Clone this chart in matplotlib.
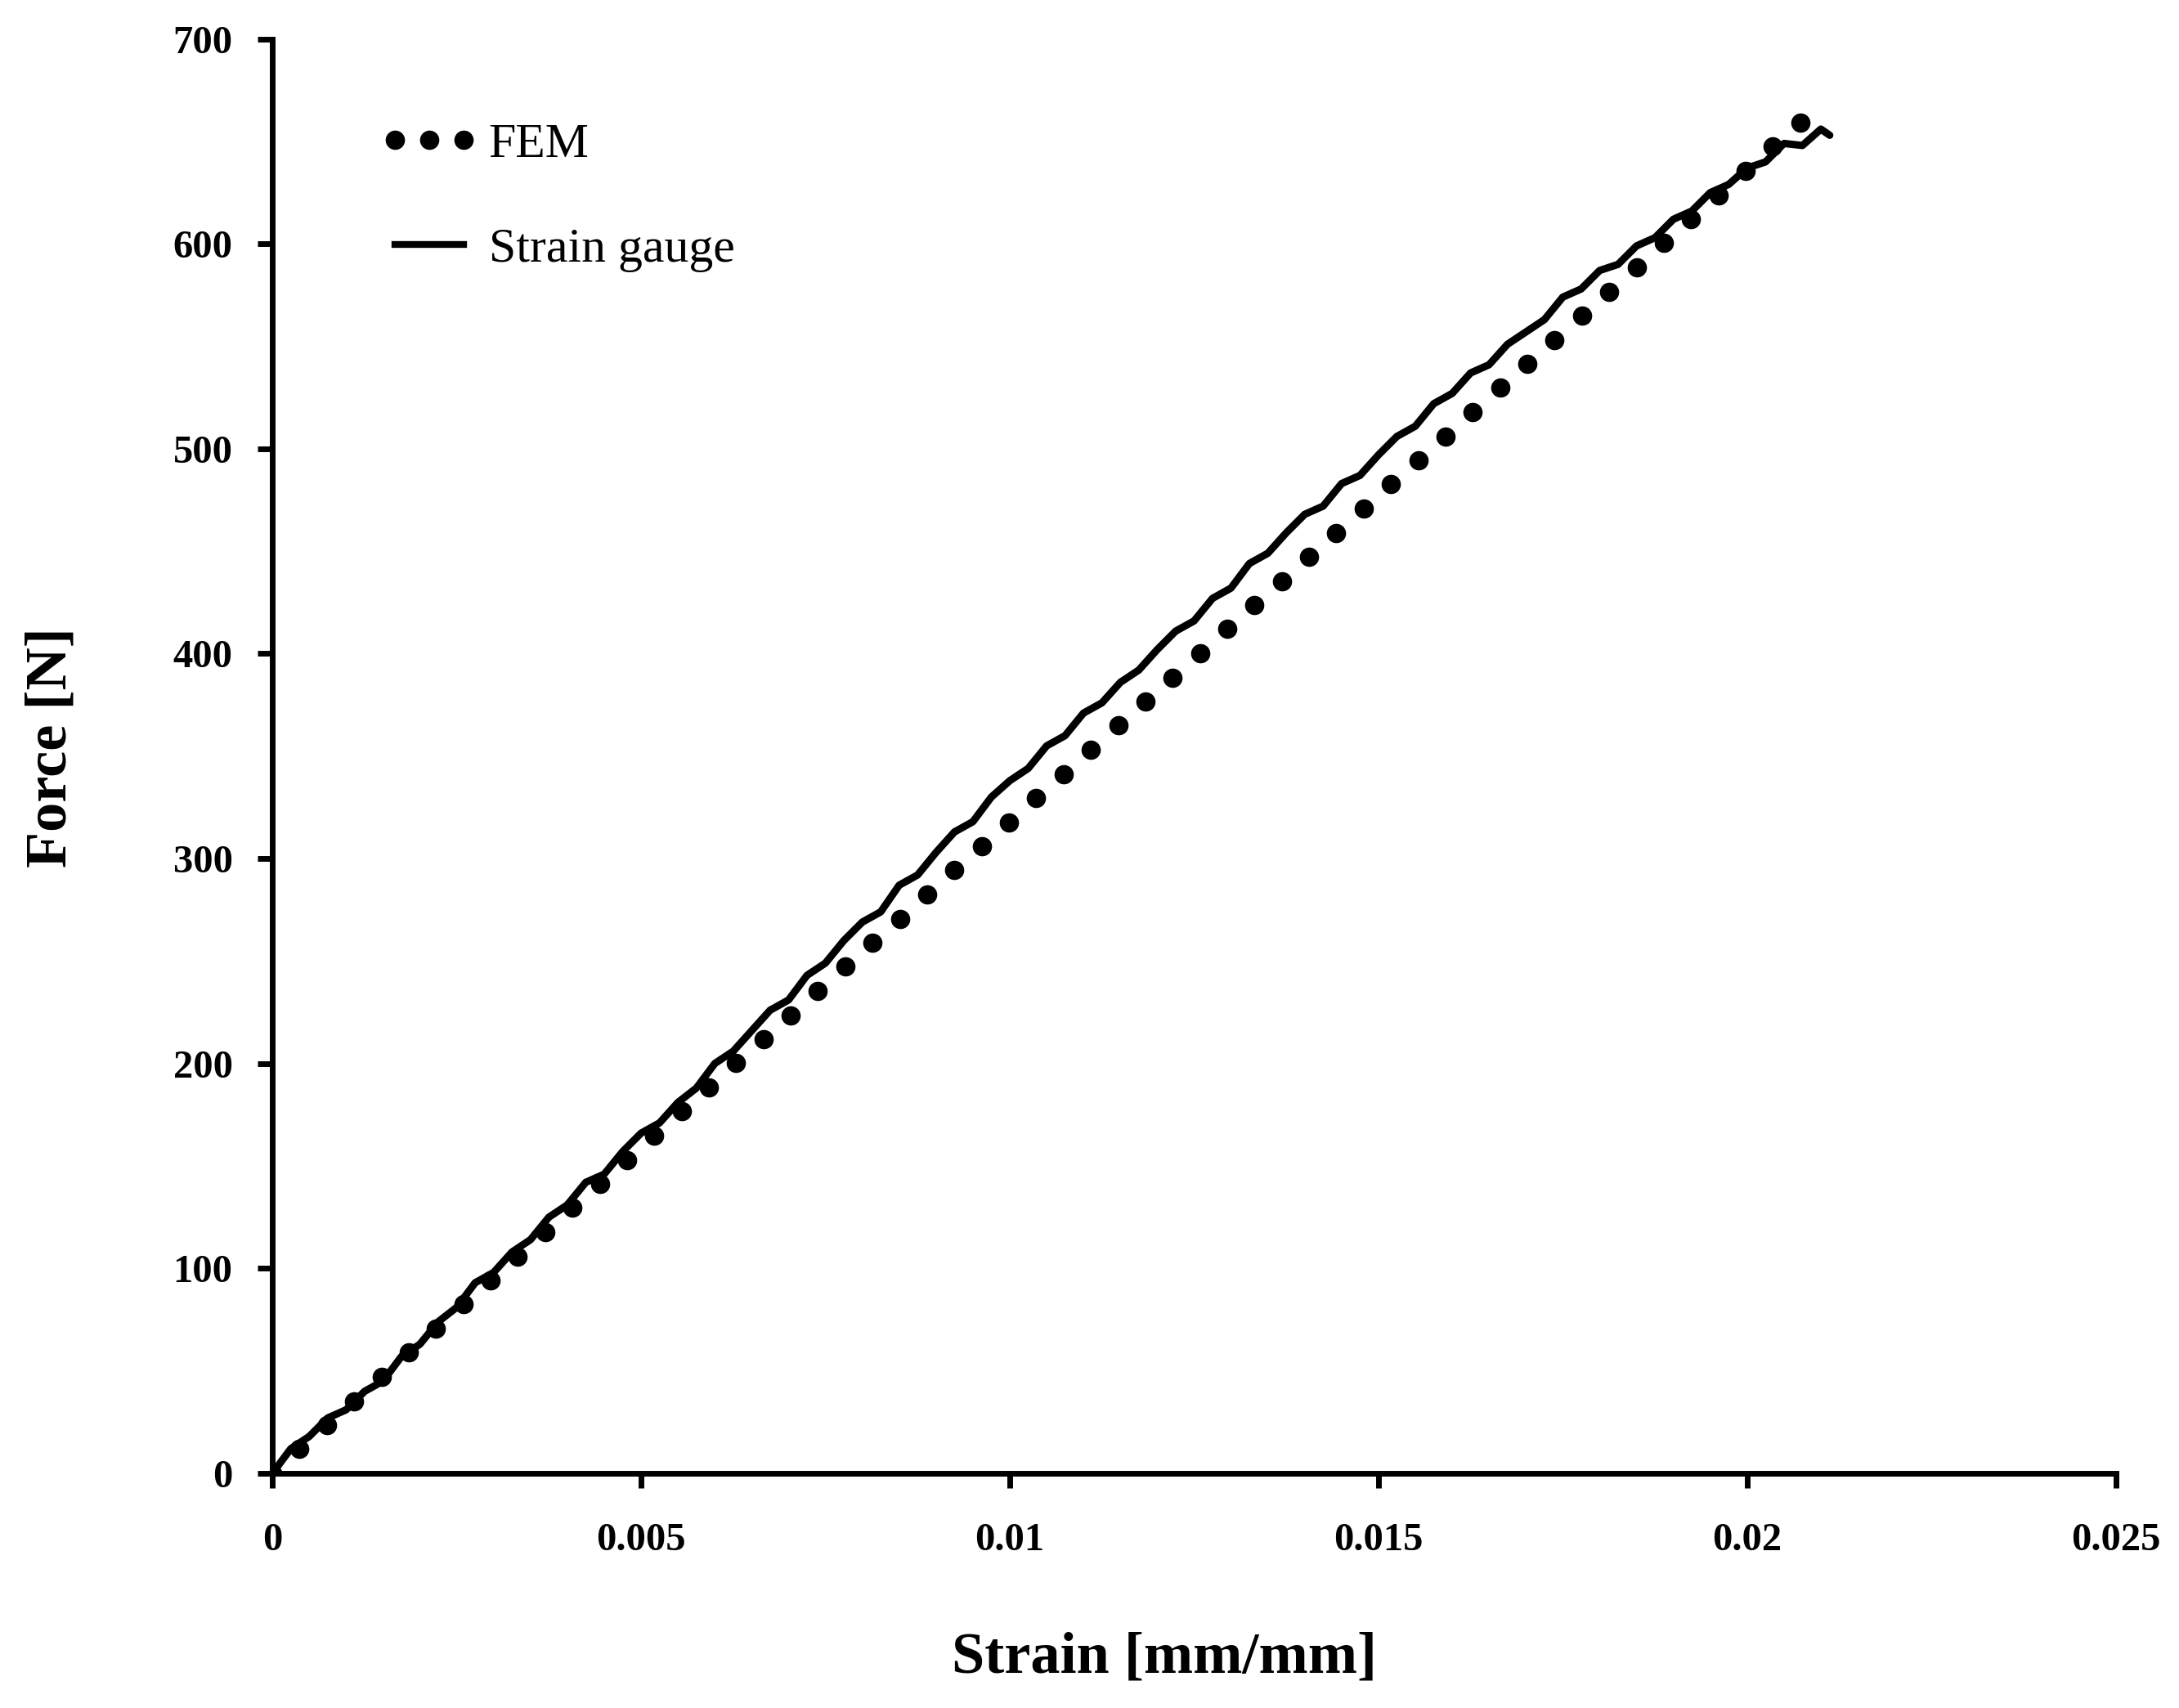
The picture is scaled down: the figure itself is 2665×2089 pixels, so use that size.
import matplotlib
matplotlib.use("Agg")
import matplotlib.pyplot as plt
from matplotlib.lines import Line2D

# FEM prediction
fem_strain = [0, 0.00037, 0.00074, 0.00111, 0.00148, 0.00185, 0.00222, 0.00259, 0.00296, 0.00333,
              0.0037, 0.00407, 0.00444, 0.00481, 0.00518, 0.00555, 0.00592, 0.00629, 0.00666, 0.00703,
              0.0074, 0.00777, 0.00814, 0.00851, 0.00888, 0.00925, 0.00962, 0.00999, 0.01036, 0.01073,
              0.0111, 0.01147, 0.01184, 0.01221, 0.01258, 0.01295, 0.01332, 0.01369, 0.01406, 0.01443,
              0.0148, 0.01517, 0.01554, 0.01591, 0.01628, 0.01665, 0.01702, 0.01739, 0.01776, 0.01813,
              0.0185, 0.01887, 0.01924, 0.01961, 0.01998, 0.02035, 0.02072]
fem_force = [0, 11.8, 23.5, 35.3, 47.1, 58.9, 70.6, 82.4, 94.2, 105.9,
             117.7, 129.5, 141.2, 153.0, 164.8, 176.6, 188.3, 200.1, 211.9, 223.6,
             235.4, 247.2, 258.9, 270.7, 282.5, 294.3, 306.0, 317.8, 329.6, 341.3,
             353.1, 364.9, 376.6, 388.4, 400.2, 412.0, 423.7, 435.5, 447.3, 459.0,
             470.8, 482.6, 494.3, 506.1, 517.9, 529.7, 541.4, 553.2, 565.0, 576.7,
             588.5, 600.3, 612.0, 623.8, 635.6, 647.4, 659.1]

# strain gauge measurement (noisy curve)
sg_strain = [0, 0.00025, 0.0005, 0.00075, 0.001, 0.00125, 0.0015, 0.00175, 0.002, 0.00225,
             0.0025, 0.00275, 0.003, 0.00325, 0.0035, 0.00375, 0.004, 0.00425, 0.0045, 0.00475,
             0.005, 0.00525, 0.0055, 0.00575, 0.006, 0.00625, 0.0065, 0.00675, 0.007, 0.00725,
             0.0075, 0.00775, 0.008, 0.00825, 0.0085, 0.00875, 0.009, 0.00925, 0.0095, 0.00975,
             0.01, 0.01025, 0.0105, 0.01075, 0.011, 0.01125, 0.0115, 0.01175, 0.012, 0.01225,
             0.0125, 0.01275, 0.013, 0.01325, 0.0135, 0.01375, 0.014, 0.01425, 0.0145, 0.01475,
             0.015, 0.01525, 0.0155, 0.01575, 0.016, 0.01625, 0.0165, 0.01675, 0.017, 0.01725,
             0.0175, 0.01775, 0.018, 0.01825, 0.0185, 0.01875, 0.019, 0.01925, 0.0195, 0.01975,
             0.02, 0.02025, 0.0205, 0.02075, 0.021, 0.02112]
sg_force = [0, 12, 18, 27, 31, 40, 45, 57, 63, 74,
            81, 93, 98, 108, 114, 125, 131, 142, 146, 157,
            166, 171, 181, 188, 200, 206, 216, 226, 231, 243,
            249, 260, 269, 274, 287, 292, 303, 313, 318, 330,
            338, 344, 355, 360, 371, 376, 386, 392, 402, 411,
            416, 427, 432, 444, 449, 459, 468, 472, 483, 487,
            497, 506, 511, 522, 527, 537, 541, 551, 557, 563,
            574, 578, 587, 590, 599, 603, 612, 616, 625, 629,
            637, 640, 649, 648, 656, 653]

x_ticks = [0, 0.005, 0.01, 0.015, 0.02, 0.025]
x_labels = ["0", "0.005", "0.01", "0.015", "0.02", "0.025"]
y_ticks = [0, 100, 200, 300, 400, 500, 600, 700]

serif = ["Liberation Serif", "DejaVu Serif"]
plt.rcParams["font.family"] = serif

fig = plt.figure(figsize=(26.65, 20.89), dpi=100)
ax = fig.add_axes([0.125, 0.1374, 0.846, 0.8398])

ax.plot(fem_strain, fem_force, linestyle="none", marker="o", markersize=16,
        color="black", zorder=2)
ax.plot(sg_strain, sg_force, color="black", linewidth=6.5, zorder=3,
        solid_joinstyle="round", solid_capstyle="round")

ax.set_xlim(0, 0.025)
ax.set_ylim(0, 700)
ax.set_xticks(x_ticks)
ax.set_xticklabels(x_labels)
ax.set_yticks(y_ticks)

for s in ["top", "right"]:
    ax.spines[s].set_visible(False)
for s in ["left", "bottom"]:
    ax.spines[s].set_linewidth(5)
ax.tick_params(axis="both", direction="out", length=13, width=5)
ax.tick_params(axis="x", pad=30, labelsize=35)
ax.tick_params(axis="y", pad=22, labelsize=35)
for lab in ax.get_xticklabels() + ax.get_yticklabels():
    lab.set_fontweight("bold")

fig.text(1424 / 2665, 1 - 2028 / 2089, "Strain [mm/mm]", fontsize=52, fontweight="bold",
         ha="center", va="center")
fig.text(63 / 2665, 1 - 914 / 2089, "Force [N]", fontsize=52, fontweight="bold",
         ha="center", va="center", rotation=90)

handles = [Line2D([], [], linestyle="none", marker="o", markersize=16, color="black"),
           Line2D([], [], color="black", linewidth=6)]
ax.legend(handles, ["FEM", "Strain gauge"], loc="upper left",
          bbox_to_anchor=(465 / 2665, 1 - 150 / 2089), bbox_transform=fig.transFigure,
          frameon=False, numpoints=3, fontsize=43, handlelength=2.0,
          handletextpad=0.22, labelspacing=1.23, borderpad=0, borderaxespad=0)

fig.savefig("out.png", dpi=100)
